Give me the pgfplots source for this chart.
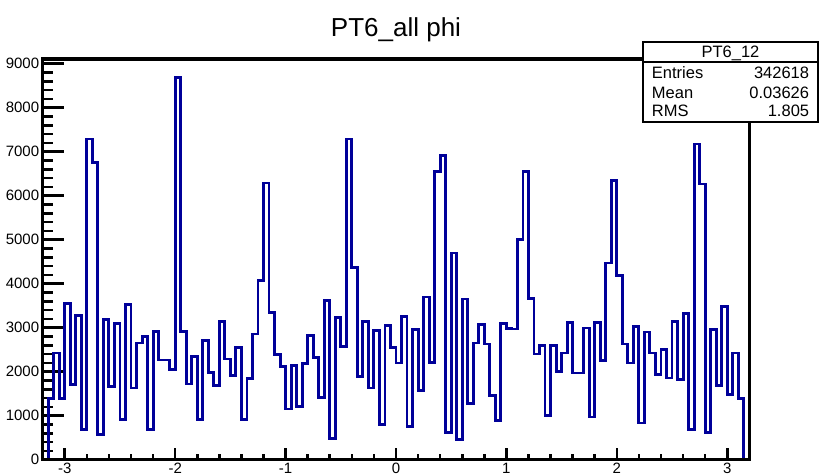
\documentclass[border=0pt]{standalone}
\usepackage{fontspec}
\setmainfont{Liberation Sans}
\usepackage{pgfplots}
\pgfplotsset{compat=1.18}
\usepackage{pgfplotstable}
\definecolor{histblue}{RGB}{0,0,153}

\pgfplotstableread{
x y
-3.20 0
-3.15 1400
-3.10 2425
-3.05 1400
-3.00 3545
-2.95 1705
-2.90 3273
-2.85 682
-2.80 7288
-2.75 6758
-2.70 568
-2.65 3182
-2.60 1667
-2.55 3091
-2.50 909
-2.45 3523
-2.40 1629
-2.35 2652
-2.30 2803
-2.25 682
-2.20 2917
-2.15 2265
-2.10 2265
-2.05 2040
-2.00 8690
-1.95 2917
-1.90 1720
-1.85 2349
-1.80 909
-1.75 2712
-1.70 1992
-1.65 1689
-1.60 3144
-1.55 2288
-1.50 1909
-1.45 2553
-1.40 909
-1.35 1841
-1.30 2856
-1.25 4068
-1.20 6288
-1.15 3349
-1.10 2386
-1.05 2121
-1.00 1152
-0.95 2144
-0.90 1212
-0.85 2182
-0.80 2826
-0.75 2326
-0.70 1417
-0.65 3621
-0.60 492
-0.55 3242
-0.50 2576
-0.45 7288
-0.40 4371
-0.35 1894
-0.30 3144
-0.25 1629
-0.20 2939
-0.15 795
-0.10 3053
-0.05 2553
0.00 2197
0.05 3258
0.10 758
0.15 2955
0.20 1568
0.25 3697
0.30 2212
0.35 6553
0.40 6917
0.45 621
0.50 4697
0.55 455
0.60 3652
0.65 1273
0.70 2652
0.75 3068
0.80 2629
0.85 1462
0.90 886
0.95 3091
1.00 2977
1.05 2970
1.10 5000
1.15 6553
1.20 3659
1.25 2402
1.30 2599
1.35 1008
1.40 2599
1.45 2008
1.50 2424
1.55 3121
1.60 1970
1.65 1970
1.70 2993
1.75 970
1.80 3121
1.85 2250
1.90 4470
1.95 6349
2.00 4190
2.05 2629
2.10 2197
2.15 3030
2.20 833
2.25 2902
2.30 2424
2.35 1932
2.40 2500
2.45 1856
2.50 3144
2.55 1818
2.60 3333
2.65 682
2.70 7174
2.75 6265
2.80 621
2.85 2955
2.90 1682
2.95 3485
3.00 1492
3.05 2424
3.10 1386
3.15 0
3.20 0
}\histdata

\begin{document}
\begin{tikzpicture}
\useasboundingbox (0,0) rectangle (819pt,474pt);
% main axis: histogram + y ticks
\begin{axis}[
  at={(42.7pt,14.3pt)}, anchor=south west,
  scale only axis, width=706.6pt, height=400.7pt,
  xmin=-3.2, xmax=3.2, ymin=0, ymax=9107,
  axis line style={line width=3.5pt},
  tick align=inside,
  xtick=\empty,
  ytick={0,1000,2000,3000,4000,5000,6000,7000,8000,9000},
  minor y tick num=4, ytick pos=left,
  major tick length=21pt, minor tick length=10.5pt,
  every tick/.style={line width=2.6pt, black},
  scaled y ticks=false,
  /pgf/number format/1000 sep={},
  /pgf/number format/assume math mode=true,
  yticklabel style={font=\fontsize{15}{18}\selectfont},
]
\addplot[const plot, mark=none, color=histblue, line width=2.9pt] table[x=x,y=y] {\histdata};
\end{axis}
% overlay axis: x ticks only
\begin{axis}[
  at={(42.7pt,14.3pt)}, anchor=south west,
  scale only axis, width=706.6pt, height=400.7pt,
  xmin=-3.2, xmax=3.2, ymin=0, ymax=9107,
  axis line style={line width=3.5pt},
  tick align=inside,
  ytick=\empty,
  xtick={-3,-2,-1,0,1,2,3},
  minor x tick num=4, xtick pos=bottom,
  major tick length=12pt, minor tick length=6pt,
  every tick/.style={line width=2.6pt, black},
  /pgf/number format/assume math mode=true,
  xticklabel style={font=\fontsize{15}{18}\selectfont},
]
\end{axis}
% title
\node[anchor=base, inner sep=0pt, font=\fontsize{26}{31}\selectfont] at (396pt,437pt) {PT6\_all phi};
% stats box
\draw[line width=2pt, fill=white] (642.7pt,352.3pt) rectangle (818.3pt,432.3pt);
\draw[line width=2pt] (642.7pt,412.3pt) -- (818.3pt,412.3pt);
\begin{scope}[every node/.style={inner sep=0pt, font=\fontsize{16.5}{20}\selectfont}]
\node[anchor=base] at (730.5pt,416.7pt) {PT6\_12};
\node[anchor=base west] at (651.7pt,395.7pt) {Entries};
\node[anchor=base east] at (809.3pt,395.7pt) {342618};
\node[anchor=base west] at (651.7pt,375.7pt) {Mean};
\node[anchor=base east] at (809.3pt,375.7pt) {0.03626};
\node[anchor=base west] at (651.7pt,357.3pt) {RMS};
\node[anchor=base east] at (809.3pt,357.3pt) {1.805};
\end{scope}
\end{tikzpicture}
\end{document}
